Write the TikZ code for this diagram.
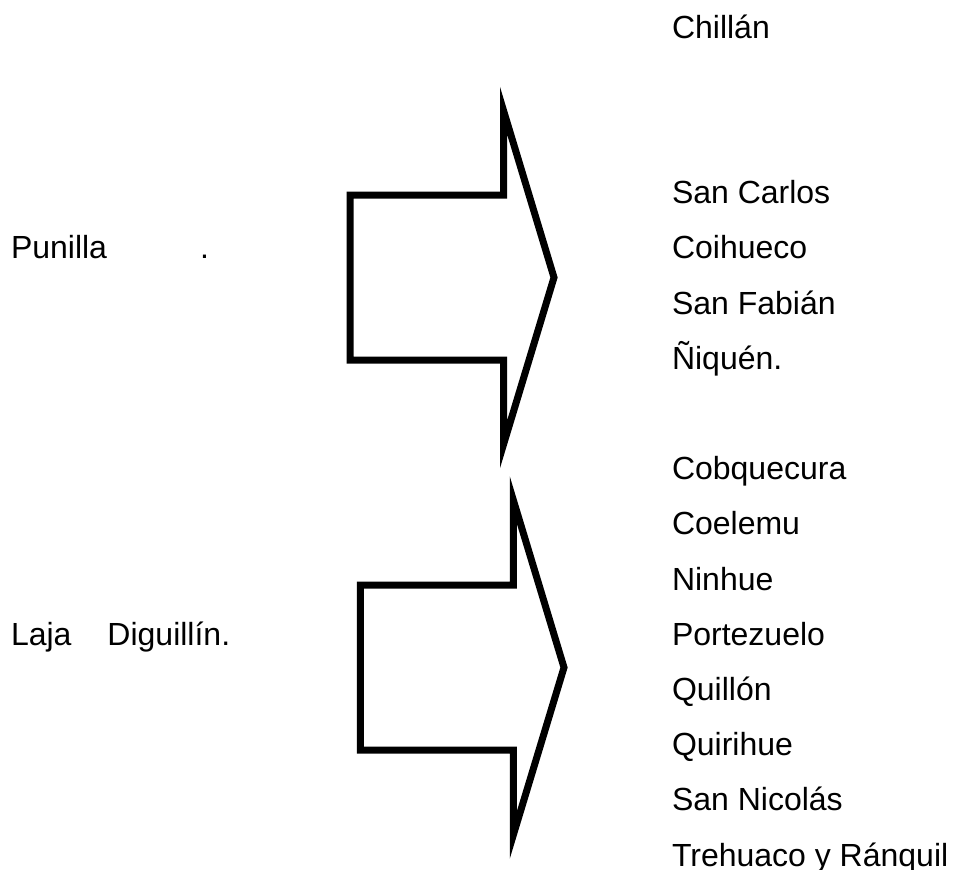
\documentclass[tikz,border=0pt]{standalone}
\usepackage{fontspec}
\setmainfont{Liberation Sans}
\begin{document}
\begin{tikzpicture}[x=1pt,y=-1pt,
  lbl/.style={anchor=base west,inner sep=0pt,outer sep=0pt,font=\fontsize{32}{38}\selectfont},
  bigarrow/.style={draw=black,line width=7pt,line join=miter,miter limit=12,fill=white}]
\useasboundingbox[fill=white] (0,0) rectangle (954,870);
% left labels
\node[lbl] (punilla) at (11,258.8) {Punilla\hspace{93pt}.};
\node[lbl] (laja) at (11,645) {Laja\hspace{36pt}Diguillín.};
% right column
\node[lbl] (chillan) at (672,38) {Chillán};
\node[lbl] (sancarlos) at (672,203.6) {San Carlos};
\node[lbl] (coihueco) at (672,258.8) {Coihueco};
\node[lbl] (sanfabian) at (672,314) {San Fabián};
\node[lbl] (niquen) at (672,369.2) {Ñiquén.};
\node[lbl] (cobquecura) at (672,479.6) {Cobquecura};
\node[lbl] (coelemu) at (672,534.8) {Coelemu};
\node[lbl] (ninhue) at (672,590) {Ninhue};
\node[lbl] (portezuelo) at (672,645.2) {Portezuelo};
\node[lbl] (quillon) at (672,700.4) {Quillón};
\node[lbl] (quirihue) at (672,755.6) {Quirihue};
\node[lbl] (sannicolas) at (672,810.8) {San Nicolás};
\node[lbl] (trehuaco) at (672,866) {Trehuaco y Ránquil};
% arrow 1
\draw[bigarrow] (503.5,110.5) -- (503.5,195) -- (350,195) -- (350,360) -- (503.5,360)
  -- (503.5,444.5) -- (554,277.5) -- cycle;
% arrow 2
\draw[bigarrow] (513.3,500) -- (513.3,585) -- (360.3,585) -- (360.3,750) -- (513.3,750)
  -- (513.3,835) -- (564,667.5) -- cycle;
\end{tikzpicture}
\end{document}
